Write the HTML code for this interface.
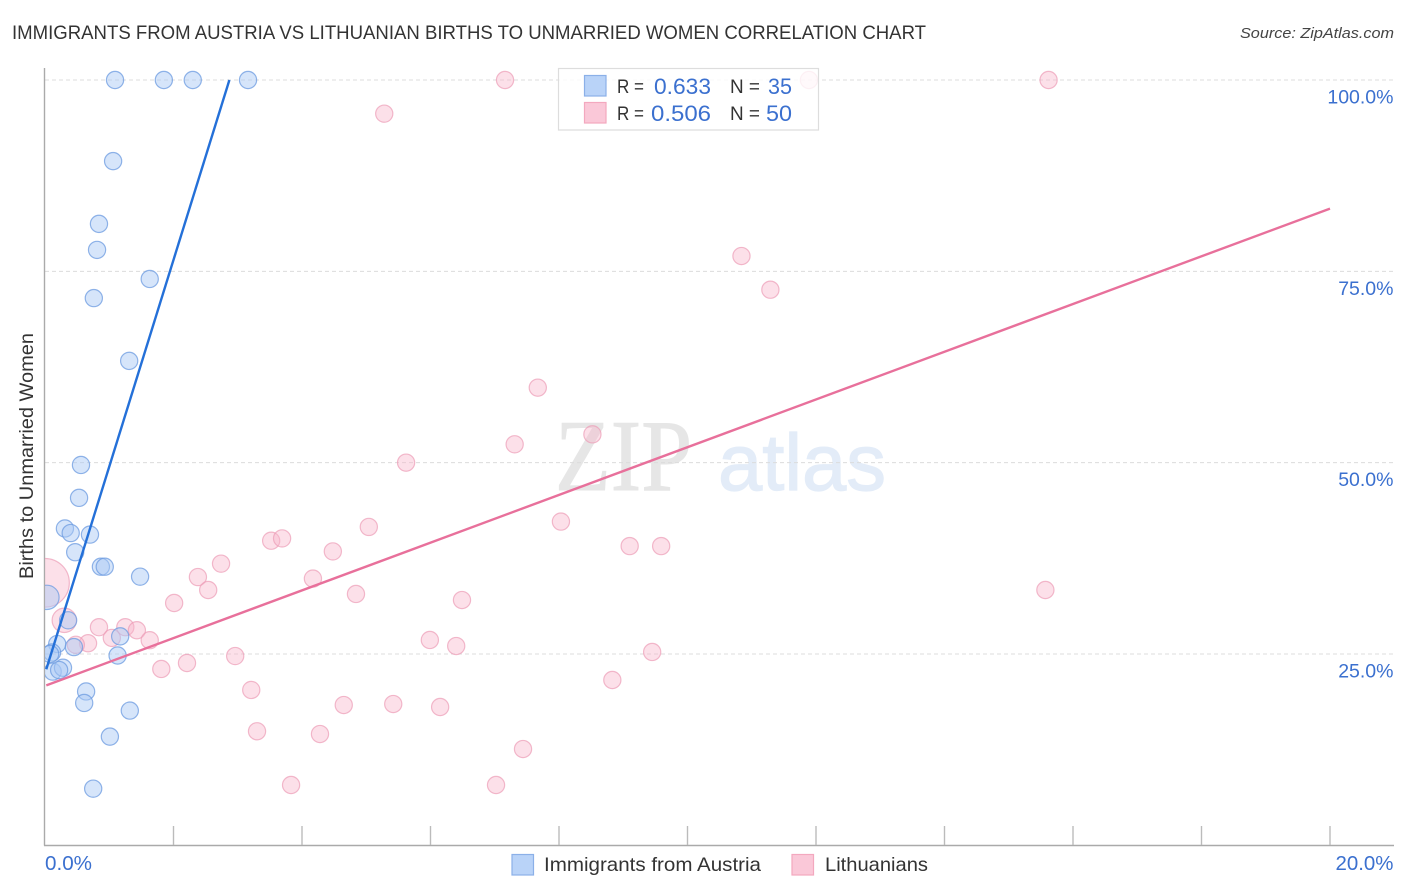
<!DOCTYPE html>
<html lang="en">
<head>
<meta charset="utf-8">
<title>Immigrants from Austria vs Lithuanian Births to Unmarried Women Correlation Chart</title>
<style>
html,body{margin:0;padding:0;background:#fff;width:1406px;height:892px;overflow:hidden}
svg{display:block;font-family:"Liberation Sans",sans-serif}
</style>
</head>
<body>
<svg id="chart" width="1406" height="892" viewBox="0 0 1406 892" xmlns="http://www.w3.org/2000/svg">
  <defs><clipPath id="plot-clip"><rect x="45" y="60" width="1360" height="785"/></clipPath></defs>
  <text x="12" y="39" font-size="19" fill="#333" textLength="914" lengthAdjust="spacingAndGlyphs">IMMIGRANTS FROM AUSTRIA VS LITHUANIAN BIRTHS TO UNMARRIED WOMEN CORRELATION CHART</text>
  <text x="1394" y="38" font-size="15" font-style="italic" fill="#444" text-anchor="end" textLength="154" lengthAdjust="spacingAndGlyphs">Source: ZipAtlas.com</text>
  <text transform="translate(33,579) rotate(-90)" font-size="19" fill="#333" textLength="246" lengthAdjust="spacingAndGlyphs">Births to Unmarried Women</text>
  <g id="watermark">
    <text x="555" y="490" font-family="'Liberation Serif',serif" font-size="102" fill="#e6e6e6" stroke="#e6e6e6" stroke-width="1" textLength="137" lengthAdjust="spacingAndGlyphs">ZIP</text>
    <text x="718" y="490" font-size="80" fill="#e3ecf8" stroke="#e3ecf8" stroke-width="1.2" textLength="168" lengthAdjust="spacingAndGlyphs">atlas</text>
  </g>
  <g id="grid"></g>
  <g id="axes"></g>
  <g id="marks" clip-path="url(#plot-clip)"></g>
  <g id="trends"></g>
  <g>
    <rect x="558.5" y="68.5" width="260" height="61.5" fill="#fff" fill-opacity="0.8" stroke="#ddd" stroke-width="1.2"/>
    <rect x="584.5" y="75.5" width="21.5" height="20.5" fill="#b9d3f8" stroke="#8bb0e8" stroke-width="1.2"/>
    <rect x="584.5" y="102.5" width="21.5" height="20.5" fill="#fac8d8" stroke="#f3a8bf" stroke-width="1.2"/>
    <text x="617" y="93" font-size="19" fill="#333" textLength="27" lengthAdjust="spacingAndGlyphs">R =</text>
    <text x="654" y="94" font-size="22" fill="#3b70cf" textLength="57" lengthAdjust="spacingAndGlyphs">0.633</text>
    <text x="730" y="93" font-size="19" fill="#333" textLength="30" lengthAdjust="spacingAndGlyphs">N =</text>
    <text x="768" y="94" font-size="22" fill="#3b70cf" textLength="24" lengthAdjust="spacingAndGlyphs">35</text>
    <text x="617" y="120" font-size="19" fill="#333" textLength="27" lengthAdjust="spacingAndGlyphs">R =</text>
    <text x="651" y="121" font-size="22" fill="#3b70cf" textLength="60" lengthAdjust="spacingAndGlyphs">0.506</text>
    <text x="730" y="120" font-size="19" fill="#333" textLength="30" lengthAdjust="spacingAndGlyphs">N =</text>
    <text x="766" y="121" font-size="22" fill="#3b70cf" textLength="26" lengthAdjust="spacingAndGlyphs">50</text>
  </g>
  <g>
    <rect x="512" y="854.5" width="21.5" height="20.5" fill="#b9d3f8" stroke="#8bb0e8" stroke-width="1.2"/>
    <text x="544" y="871" font-size="19.5" fill="#333" textLength="217" lengthAdjust="spacingAndGlyphs">Immigrants from Austria</text>
    <rect x="792" y="854.5" width="21.5" height="20.5" fill="#fac8d8" stroke="#f3a8bf" stroke-width="1.2"/>
    <text x="825" y="871" font-size="19.5" fill="#333" textLength="103" lengthAdjust="spacingAndGlyphs">Lithuanians</text>
  </g>
</svg>
<script>
// Values are percentages.
const austriaX = [1.09,1.85,2.30,3.16,1.06,0.84,0.81,1.63,0.76,1.31,0.56,0.53,0.31,0.40,0.70,0.47,0.87,0.93,1.48,0.03,0.36,1.17,0.19,0.45,0.11,1.13,0.12,0.28,0.22,0.64,0.61,1.32,1.01,0.75,0.08];
const austriaY = [100,100,100,100,89.4,81.2,77.8,74.0,71.5,63.3,49.7,45.4,41.4,40.8,40.6,38.3,36.4,36.4,35.1,32.4,29.4,27.3,26.3,25.9,25.2,24.8,22.7,23.2,22.9,20.1,18.6,17.6,14.2,7.4,25.0];
const austriaWeight = [1,1,1,1,1,1,1,1,1,1,1,1,1,1,1,1,1,1,1,2,1,1,1,1,1,1,1,1,1,1,1,1,1,1,1];

const lithuanianX = [7.16,11.89,15.62,5.28,10.84,11.29,7.67,7.31,8.52,5.62,8.03,5.04,3.52,3.69,9.10,9.59,4.48,2.74,2.38,4.17,2.54,4.84,2.01,6.49,15.57,0.00,0.30,0.84,1.25,1.43,1.04,1.63,5.99,6.40,0.67,0.48,9.45,2.96,2.21,1.81,8.83,3.21,4.65,5.42,6.15,3.30,4.28,7.44,3.83,7.02];
const lithuanianY = [100,100,100,95.6,77.0,72.6,59.8,52.4,53.7,50.0,42.3,41.6,39.8,40.1,39.1,39.1,38.4,36.8,35.05,34.85,33.36,32.84,31.66,32.05,33.36,34.3,29.4,28.5,28.5,28.1,27.1,26.8,26.83,26.04,26.4,26.2,25.26,24.73,23.82,23.04,21.6,20.3,18.33,18.46,18.07,14.9,14.54,12.58,7.88,7.88];
const lithuanianWeight = [1,1,1,1,1,1,1,1,1,1,1,1,1,1,1,1,1,1,1,1,1,1,1,1,1,8,2,1,1,1,1,1,1,1,1,1,1,1,1,1,1,1,1,1,1,1,1,1,1,1];

const austriaTrendX = [0.02,2.87];
const austriaTrendY = [23.0,100];
const lithuanianTrendX = [0.02,20];
const lithuanianTrendY = [20.9,83.2];

const yTicks = [100,75,50,25];
const yTickLabels = ["100.0%","75.0%","50.0%","25.0%"];
const xTicks = [2,4,6,8,10,12,14,16,18,20];
const xEndLabels = ["0.0%","20.0%"];

const NS = "http://www.w3.org/2000/svg";
function xScale(v){ return 45 + v * 64.25; }
function yScale(v){ return 80 + (100 - v) * 7.653; }
function make(tag, attrs, parent){
  const el = document.createElementNS(NS, tag);
  for (const k in attrs) el.setAttribute(k, attrs[k]);
  parent.appendChild(el);
  return el;
}
const grid = document.getElementById("grid");
const axes = document.getElementById("axes");
const marks = document.getElementById("marks");
const trends = document.getElementById("trends");

yTicks.forEach(function(t, i){
  const line = make("line", {x1:45, x2:1393, y1:yScale(t), y2:yScale(t), stroke:"#dcdcdc", "stroke-width":1, "stroke-dasharray":"4 3"}, grid);
  
  
  const label = make("text", {x:1393.5, y:yScale(t) + 23.5, "font-size":19.5, fill:"#3b70cf", "text-anchor":"end"}, axes);
  
  
  label.textContent = yTickLabels[i];
});

const yAxis = make("line", {x1:44.5, x2:44.5, y1:68, y2:845.5, stroke:"#aaa", "stroke-width":1.4}, axes);


const xAxis = make("line", {x1:44, x2:1394, y1:845.5, y2:845.5, stroke:"#aaa", "stroke-width":1.4}, axes);



xTicks.forEach(function(t){
  const tick = make("line", {x1:xScale(t), x2:xScale(t), y1:826, y2:845, stroke:"#bbb", "stroke-width":1.4}, axes);
  
  
});

const xStart = make("text", {x:45, y:870, "font-size":20, fill:"#3b70cf", textLength:47, lengthAdjust:"spacingAndGlyphs"}, axes);


xStart.textContent = xEndLabels[0];
const xEnd = make("text", {x:1393.5, y:870, "font-size":20, fill:"#3b70cf", "text-anchor":"end", textLength:58, lengthAdjust:"spacingAndGlyphs"}, axes);


xEnd.textContent = xEndLabels[1];

function radius(w){ return 8.6 * Math.sqrt(w); }

lithuanianX.forEach(function(v, i){
  const c = make("circle", {cx:xScale(v), cy:yScale(lithuanianY[i]), r:radius(lithuanianWeight[i]), fill:"#f7b6cb", "fill-opacity":0.42, stroke:"#ec9db6", "stroke-opacity":0.7, "stroke-width":1.2}, marks);
  
  
});
austriaX.forEach(function(v, i){
  const c = make("circle", {cx:xScale(v), cy:yScale(austriaY[i]), r:radius(austriaWeight[i]), fill:"#a9c9f5", "fill-opacity":0.48, stroke:"#6c9be0", "stroke-opacity":0.75, "stroke-width":1.2}, marks);
  
  
});

const austriaLine = make("line", {x1:xScale(austriaTrendX[0]), y1:yScale(austriaTrendY[0]), x2:xScale(austriaTrendX[1]), y2:yScale(austriaTrendY[1]), stroke:"#2470d8", "stroke-width":2.4}, trends);


const lithuanianLine = make("line", {x1:xScale(lithuanianTrendX[0]), y1:yScale(lithuanianTrendY[0]), x2:xScale(lithuanianTrendX[1]), y2:yScale(lithuanianTrendY[1]), stroke:"#e8709b", "stroke-width":2.4}, trends);


</script>
</body>
</html>
